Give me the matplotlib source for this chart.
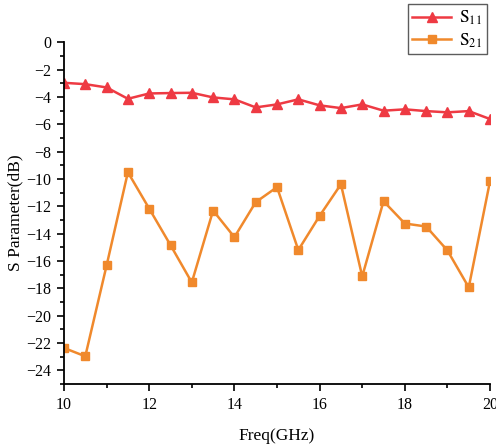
import numpy as np
import matplotlib.pyplot as plt
from matplotlib.ticker import MultipleLocator

plt.rcParams['font.family'] = ['Liberation Serif', 'DejaVu Serif']
plt.rcParams['mathtext.fontset'] = 'stix'

freq = np.arange(10, 20.01, 0.5)
s11 = [-2.97, -3.07, -3.31, -4.14, -3.75, -3.72, -3.70, -4.04, -4.18, -4.77, -4.55,
       -4.18, -4.62, -4.82, -4.55, -5.01, -4.91, -5.04, -5.13, -5.04, -5.62]
s21 = [-22.36, -22.97, -16.33, -9.51, -12.17, -14.84, -17.57, -12.31, -14.26, -11.70, -10.60,
       -15.20, -12.70, -10.39, -17.13, -11.63, -13.26, -13.48, -15.23, -17.93, -10.15]

fig = plt.figure(figsize=(4.96, 4.44), dpi=100)
ax = fig.add_axes([0.129, 0.135, 0.859, 0.770])

l1, = ax.plot(freq, s11, color='#EE3A43', lw=1.8, marker='^', ms=6.5, label=r'$\mathrm{S_{11}}$')
l2, = ax.plot(freq, s21, color='#F0892C', lw=1.8, marker='s', ms=5.5, label=r'$\mathrm{S_{21}}$')

ax.set_xlim(10, 20)
ax.set_ylim(-25, 0)
ax.xaxis.set_major_locator(MultipleLocator(2))
ax.xaxis.set_minor_locator(MultipleLocator(1))
ax.yaxis.set_major_locator(MultipleLocator(2))
ax.yaxis.set_minor_locator(MultipleLocator(1))
ax.tick_params(which='major', direction='out', length=5, width=1.2, labelsize=11.5, pad=4)
ax.tick_params(which='minor', direction='out', length=3, width=1.2)

for side in ['top', 'right']:
    ax.spines[side].set_visible(False)
for side in ['left', 'bottom']:
    ax.spines[side].set_linewidth(1.3)

ax.set_xlabel('Freq(GHz)', fontsize=12.5, labelpad=11)
ax.set_ylabel('S Parameter(dB)', fontsize=12.5, labelpad=2)

leg = fig.legend(handles=[l1, l2], loc='upper right', bbox_to_anchor=(0.981, 0.99),
                 fontsize=12.5, frameon=True, fancybox=False, edgecolor='#333333',
                 handlelength=2.2, borderpad=0.25, labelspacing=0.25, handletextpad=0.5,
                 borderaxespad=0)
leg.get_frame().set_linewidth(1.0)

fig.savefig('out.png', dpi=100)
